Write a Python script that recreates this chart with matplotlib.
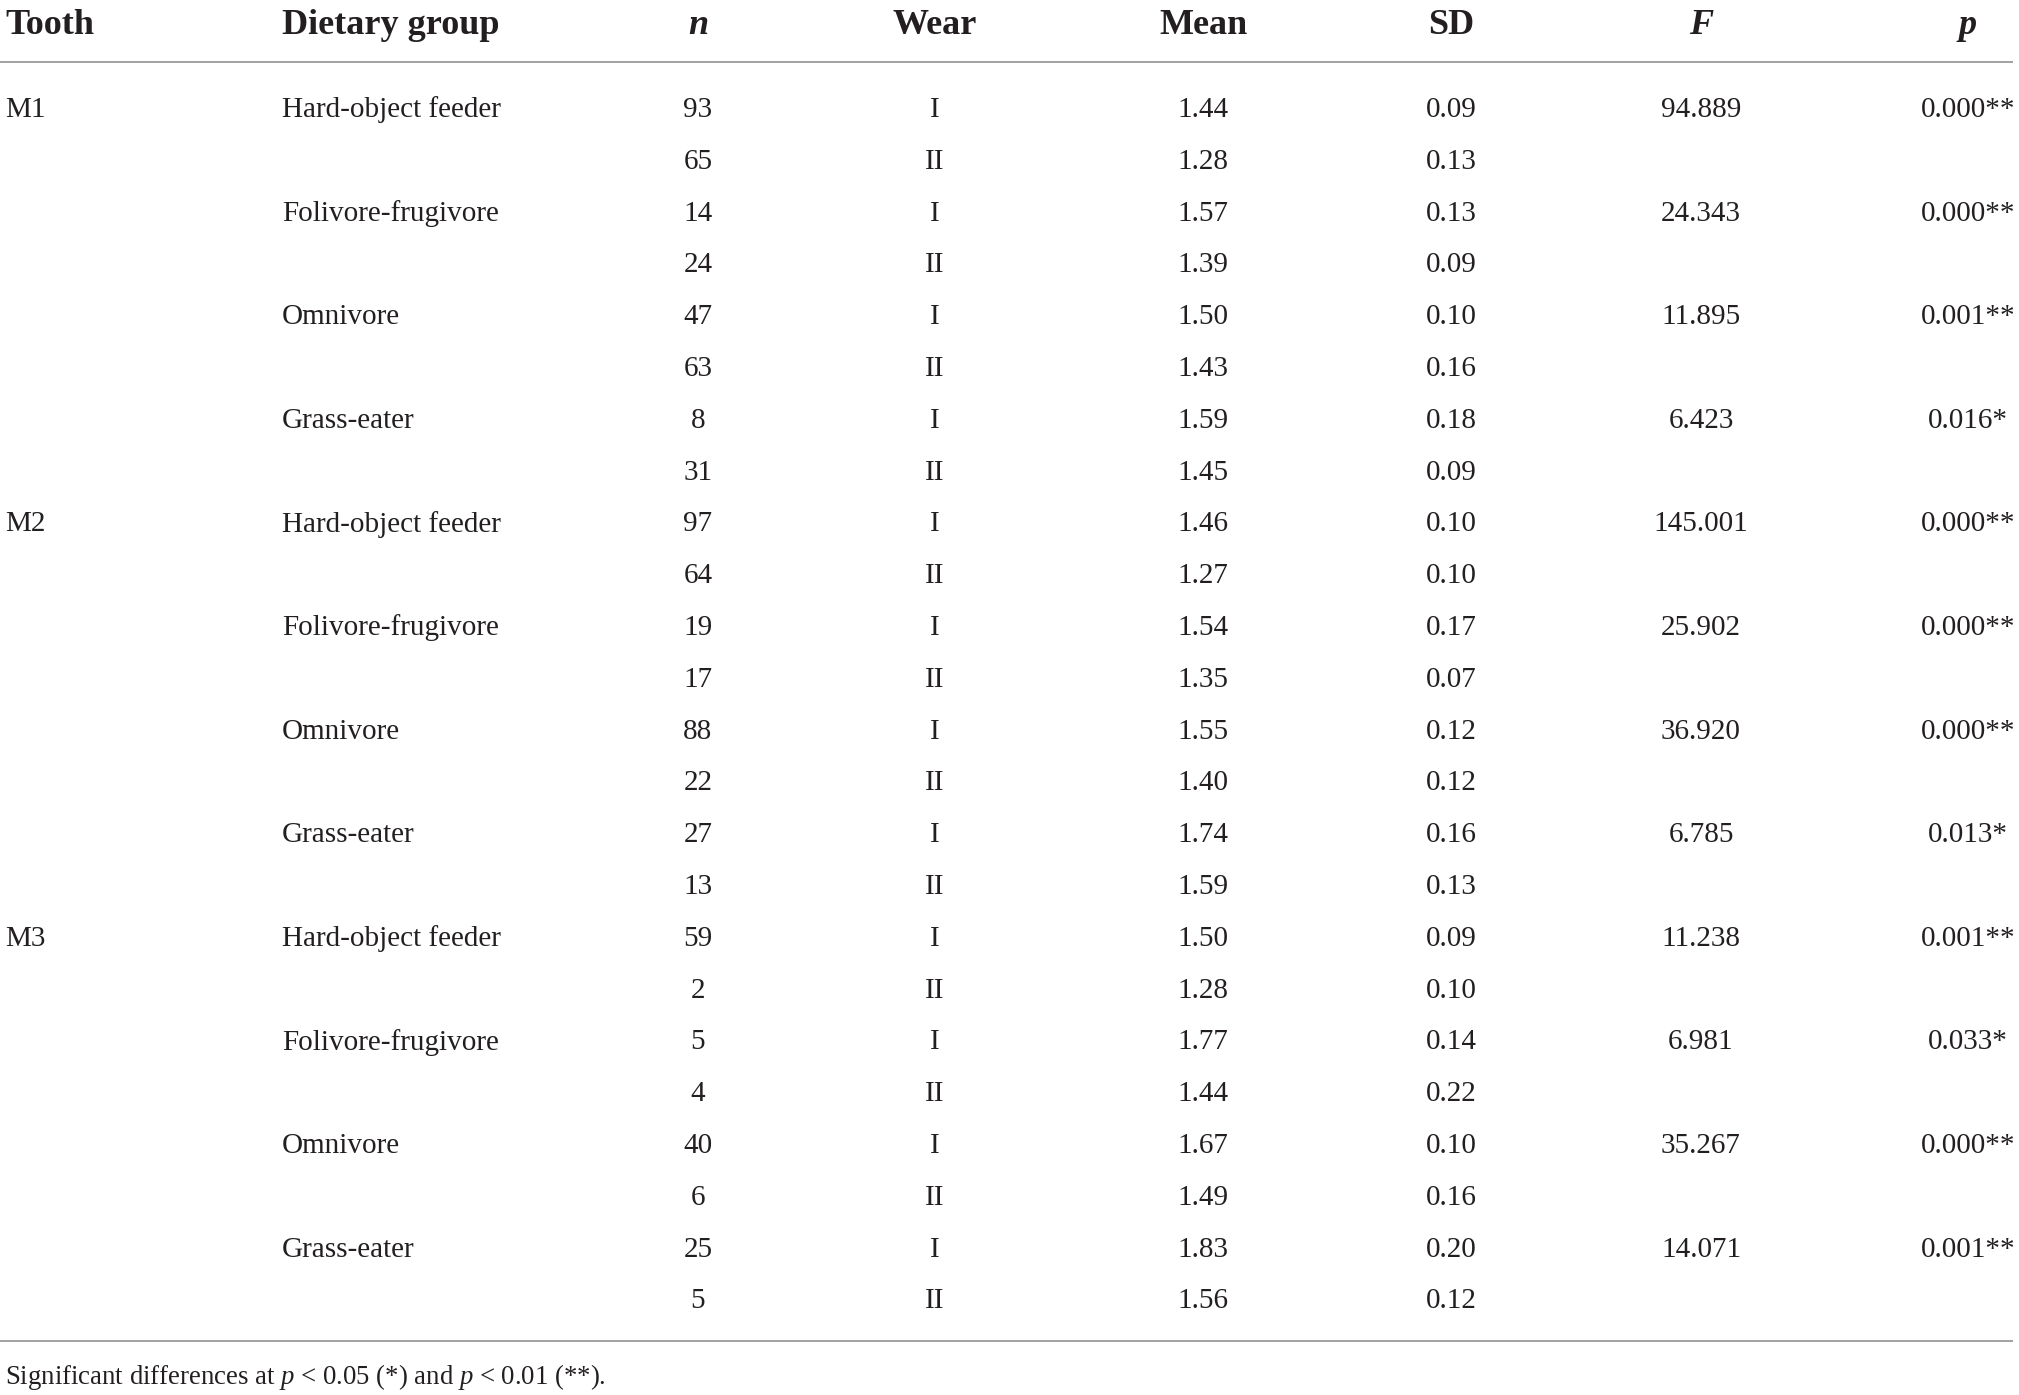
import matplotlib
matplotlib.use("Agg")
import matplotlib.pyplot as plt

plt.rcParams["font.family"] = ["Liberation Serif", "DejaVu Serif"]
plt.rcParams["mathtext.fontset"] = "custom"
plt.rcParams["mathtext.rm"] = "Liberation Serif"
plt.rcParams["mathtext.it"] = "Liberation Serif:italic"

W, H = 2019, 1395

headers = ["Tooth", "Dietary group", "n", "Wear", "Mean", "SD", "F", "p"]
teeth = ["M1", "M2", "M3"]
groups = ["Hard-object feeder", "Folivore-frugivore", "Omnivore", "Grass-eater"]
wear = ["I", "II"]

n_vals = [93, 65, 14, 24, 47, 63, 8, 31,
          97, 64, 19, 17, 88, 22, 27, 13,
          59, 2, 5, 4, 40, 6, 25, 5]
mean_vals = ["1.44", "1.28", "1.57", "1.39", "1.50", "1.43", "1.59", "1.45",
             "1.46", "1.27", "1.54", "1.35", "1.55", "1.40", "1.74", "1.59",
             "1.50", "1.28", "1.77", "1.44", "1.67", "1.49", "1.83", "1.56"]
sd_vals = ["0.09", "0.13", "0.13", "0.09", "0.10", "0.16", "0.18", "0.09",
           "0.10", "0.10", "0.17", "0.07", "0.12", "0.12", "0.16", "0.13",
           "0.09", "0.10", "0.14", "0.22", "0.10", "0.16", "0.20", "0.12"]
# one F / p per tooth x group
f_vals = ["94.889", "24.343", "11.895", "6.423",
          "145.001", "25.902", "36.920", "6.785",
          "11.238", "6.981", "35.267", "14.071"]
p_vals = ["0.000**", "0.000**", "0.001**", "0.016*",
          "0.000**", "0.000**", "0.000**", "0.013*",
          "0.001**", "0.033*", "0.000**", "0.001**"]
note = "Significant differences at $p$ < 0.05 (*) and $p$ < 0.01 (**)."

# column anchors (x, alignment)
cols = [(5, "left"), (282, "left"), (698, "center"), (935, "center"),
        (1203, "center"), (1451, "center"), (1701, "center"), (1968, "center")]
italic_head = {"n", "F", "p"}

txt = "#231f20"
line_c = "#9a9a9a"
body_fs = 21
head_fs = 26

fig = plt.figure(figsize=(W / 100, H / 100), dpi=100)
ax = fig.add_axes([0, 0, 1, 1])
ax.set_xlim(0, W)
ax.set_ylim(H, 0)
ax.axis("off")

# header
for (x, ha), h in zip(cols, headers):
    ax.text(x, 25, h, ha=ha, va="center", fontsize=head_fs, fontweight="bold",
            fontstyle="italic" if h in italic_head else "normal", color=txt)

ax.plot([0, 2013], [62, 62], color=line_c, lw=1.3, solid_capstyle="butt")

row0, dy = 110, 51.8
for i in range(len(n_vals)):
    y = row0 + i * dy
    t, rest = divmod(i, 8)
    g, w = divmod(rest, 2)
    cells = [teeth[t] if rest == 0 else "",
             groups[g] if w == 0 else "",
             str(n_vals[i]), wear[w], mean_vals[i], sd_vals[i],
             f_vals[t * 4 + g] if w == 0 else "",
             p_vals[t * 4 + g] if w == 0 else ""]
    for (x, ha), c in zip(cols, cells):
        if c:
            ax.text(x, y, c, ha=ha, va="center", fontsize=body_fs, color=txt)

ax.plot([0, 2013], [1341, 1341], color=line_c, lw=1.3, solid_capstyle="butt")
ax.text(5, 1377, note, ha="left", va="center", fontsize=19.3, color=txt)

fig.savefig("out.png", dpi=100, facecolor="white")
